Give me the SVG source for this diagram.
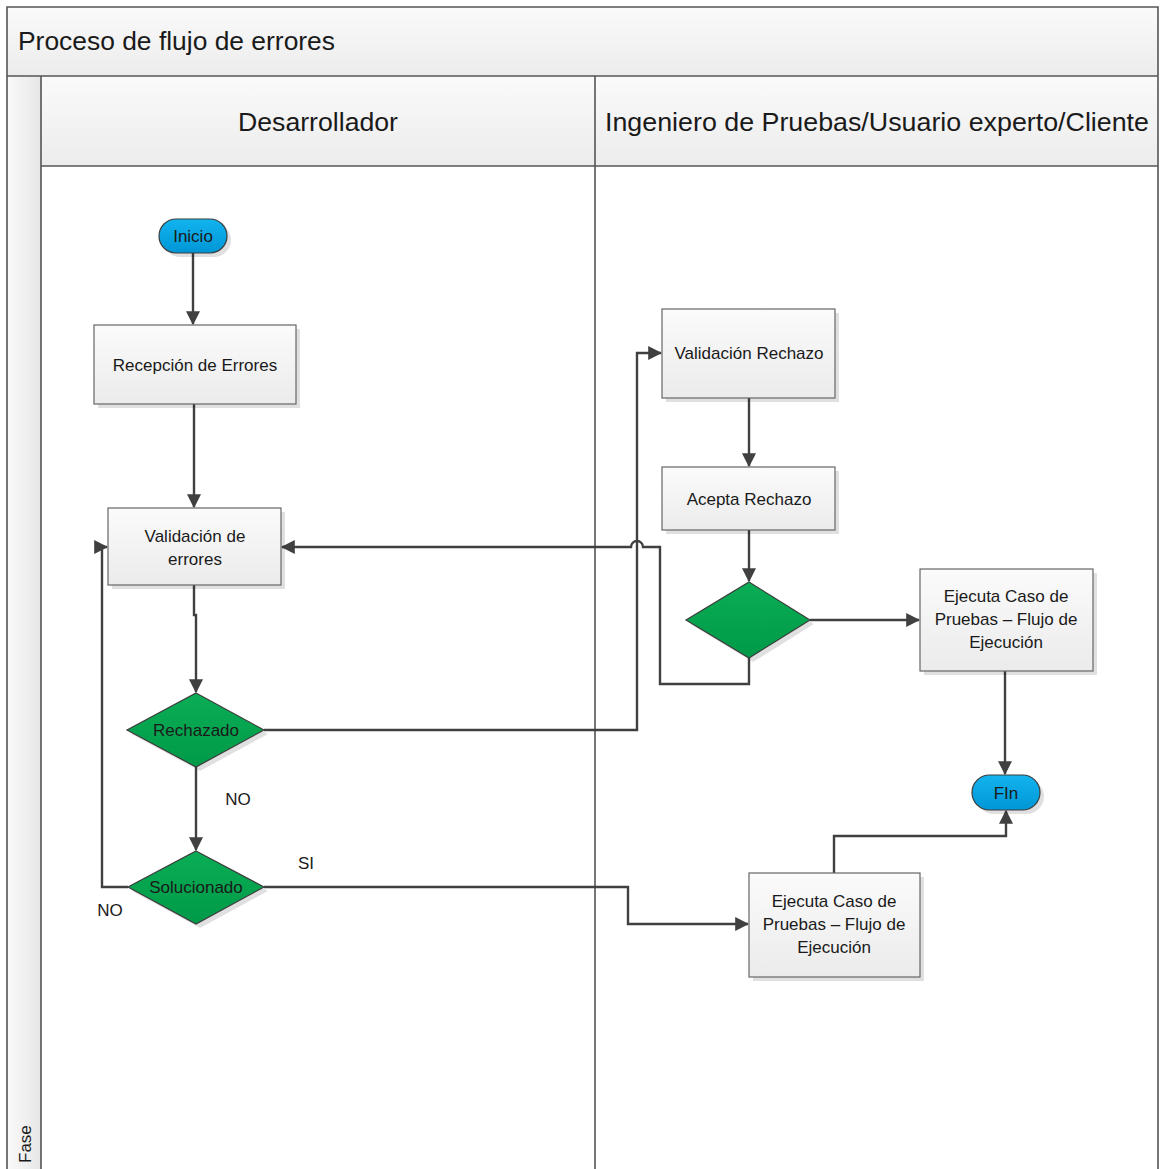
<svg xmlns="http://www.w3.org/2000/svg" width="1160" height="1169" viewBox="0 0 1160 1169">
  <style>
    .lbl { font-family: "Liberation Sans", Arial, sans-serif; fill: #1a1a1a; }
    .hdr { font-size: 25px; }
    .node { font-size: 17px; text-anchor: middle; }
    .frame { fill: none; stroke: #555; stroke-width: 1.6; }
    .box { fill: url(#boxFill); stroke: #666; stroke-width: 1.2; }
    .dia { fill: url(#greenFill); stroke: #3c3c3c; stroke-width: 1.2; }
    .pill { fill: url(#blueFill); stroke: #3c3c3c; stroke-width: 1.2; }
    .shadow { fill: #000; opacity: 0.12; }
    .conn { fill: none; stroke: #404040; stroke-width: 2.4; }
    .arrow { marker-end: url(#head); }
  </style>
  <defs>
    <linearGradient id="boxFill" x1="0" y1="0" x2="0" y2="1">
      <stop offset="0" stop-color="#fbfbfb"/>
      <stop offset="1" stop-color="#ebebeb"/>
    </linearGradient>
    <linearGradient id="hdrFill" x1="0" y1="0" x2="0" y2="1">
      <stop offset="0" stop-color="#fafafa"/>
      <stop offset="1" stop-color="#ececec"/>
    </linearGradient>
    <linearGradient id="faseFill" x1="0" y1="0" x2="1" y2="0">
      <stop offset="0" stop-color="#fafafa"/>
      <stop offset="1" stop-color="#e6e6e6"/>
    </linearGradient>
    <linearGradient id="greenFill" x1="0" y1="0" x2="0" y2="1">
      <stop offset="0" stop-color="#0aad55"/>
      <stop offset="1" stop-color="#009a48"/>
    </linearGradient>
    <linearGradient id="blueFill" x1="0" y1="0" x2="0" y2="1">
      <stop offset="0" stop-color="#12b4ef"/>
      <stop offset="1" stop-color="#0096d6"/>
    </linearGradient>
    <marker id="head" viewBox="0 0 12 12" refX="11" refY="6" markerWidth="14" markerHeight="14" markerUnits="userSpaceOnUse" orient="auto">
      <path d="M0,0 L12,6 L0,12 Z" fill="#404040"/>
    </marker>
  </defs>

  <!-- pool and lanes -->
  <g id="pool">
    <rect x="7" y="7" width="1151" height="69" fill="url(#hdrFill)"/>
    <rect x="7" y="76" width="34" height="1093" fill="url(#faseFill)"/>
    <rect x="41" y="76" width="1117" height="90" fill="url(#hdrFill)"/>
    <rect x="41" y="166" width="1117" height="1003" fill="#ffffff"/>
    <path class="frame" d="M7,1169 V7 H1158 V1169 M7,76 H1158 M41,76 V1169 M41,166 H1158 M595,76 V1169"/>
    <text class="lbl hdr" x="18" y="50" textLength="317" lengthAdjust="spacingAndGlyphs">Proceso de flujo de errores</text>
    <text class="lbl hdr" x="318" y="131" text-anchor="middle" textLength="160" lengthAdjust="spacingAndGlyphs">Desarrollador</text>
    <text class="lbl hdr" x="877" y="131" text-anchor="middle" textLength="544" lengthAdjust="spacingAndGlyphs">Ingeniero de Pruebas/Usuario experto/Cliente</text>
    <text class="lbl" font-size="17" transform="translate(31,1163) rotate(-90)">Fase</text>
  </g>

  <!-- connectors -->
  <g id="connectors">
    <path class="conn arrow" d="M193,253 V324"/>
    <path class="conn arrow" d="M194,404 V507"/>
    <path class="conn arrow" d="M194,585 V615 H196 V692"/>
    <path class="conn arrow" d="M196,767 V850"/>
    <path class="conn arrow" d="M128,887 H102 V547 H107"/>
    <path class="conn arrow" d="M264,887 H628 V924 H748"/>
    <path class="conn arrow" d="M264,730 H637 V353 H661"/>
    <path class="conn arrow" d="M749,398 V466"/>
    <path class="conn arrow" d="M749,530 V581"/>
    <path class="conn arrow" d="M749,658 V684 H660 V547 H643 A6,6 0 0 0 631,547 H282"/>
    <path class="conn arrow" d="M810,620 H919"/>
    <path class="conn arrow" d="M1005,671 V774"/>
    <path class="conn arrow" d="M834,873 V836 H1006 V811"/>
    <text class="lbl" font-size="17" x="238" y="805" text-anchor="middle">NO</text>
    <text class="lbl" font-size="17" x="110" y="916" text-anchor="middle">NO</text>
    <text class="lbl" font-size="17" x="306" y="869" text-anchor="middle">SI</text>
  </g>

  <!-- nodes -->
  <g id="inicio">
    <rect class="shadow" x="163" y="223" width="68" height="34" rx="17"/>
    <rect class="pill" x="159" y="219" width="68" height="34" rx="17"/>
    <text class="lbl node" x="193" y="242">Inicio</text>
  </g>
  <g id="recepcion">
    <rect class="shadow" x="98" y="329" width="202" height="79"/>
    <rect class="box" x="94" y="325" width="202" height="79"/>
    <text class="lbl node" x="195" y="371">Recepción de Errores</text>
  </g>
  <g id="validacion-errores">
    <rect class="shadow" x="112" y="512" width="173" height="77"/>
    <rect class="box" x="108" y="508" width="173" height="77"/>
    <text class="lbl node" x="195" y="542">Validación de</text>
    <text class="lbl node" x="195" y="565">errores</text>
  </g>
  <g id="rechazado">
    <polygon class="shadow" points="200,697 268,734 200,771 131,734"/>
    <polygon class="dia" points="196,693 264,730 196,767 127,730"/>
    <text class="lbl node" x="196" y="736">Rechazado</text>
  </g>
  <g id="solucionado">
    <polygon class="shadow" points="200,855 268,891 200,928 132,891"/>
    <polygon class="dia" points="196,851 264,887 196,924 128,887"/>
    <text class="lbl node" x="196" y="893">Solucionado</text>
  </g>
  <g id="validacion-rechazo">
    <rect class="shadow" x="666" y="313" width="173" height="89"/>
    <rect class="box" x="662" y="309" width="173" height="89"/>
    <text class="lbl node" x="749" y="359">Validación Rechazo</text>
  </g>
  <g id="acepta-rechazo">
    <rect class="shadow" x="666" y="471" width="173" height="63"/>
    <rect class="box" x="662" y="467" width="173" height="63"/>
    <text class="lbl node" x="749" y="505">Acepta Rechazo</text>
  </g>
  <g id="decision">
    <polygon class="shadow" points="753,586 814,624 753,662 690,624"/>
    <polygon class="dia" points="749,582 810,620 749,658 686,620"/>
  </g>
  <g id="ejecuta-1">
    <rect class="shadow" x="924" y="573" width="173" height="102"/>
    <rect class="box" x="920" y="569" width="173" height="102"/>
    <text class="lbl node" x="1006" y="602">Ejecuta Caso de</text>
    <text class="lbl node" x="1006" y="625">Pruebas – Flujo de</text>
    <text class="lbl node" x="1006" y="648">Ejecución</text>
  </g>
  <g id="fin">
    <rect class="shadow" x="976" y="779" width="68" height="35" rx="17.5"/>
    <rect class="pill" x="972" y="775" width="68" height="35" rx="17.5"/>
    <text class="lbl node" x="1006" y="799">FIn</text>
  </g>
  <g id="ejecuta-2">
    <rect class="shadow" x="753" y="877" width="171" height="104"/>
    <rect class="box" x="749" y="873" width="171" height="104"/>
    <text class="lbl node" x="834" y="907">Ejecuta Caso de</text>
    <text class="lbl node" x="834" y="930">Pruebas – Flujo de</text>
    <text class="lbl node" x="834" y="953">Ejecución</text>
  </g>
</svg>
